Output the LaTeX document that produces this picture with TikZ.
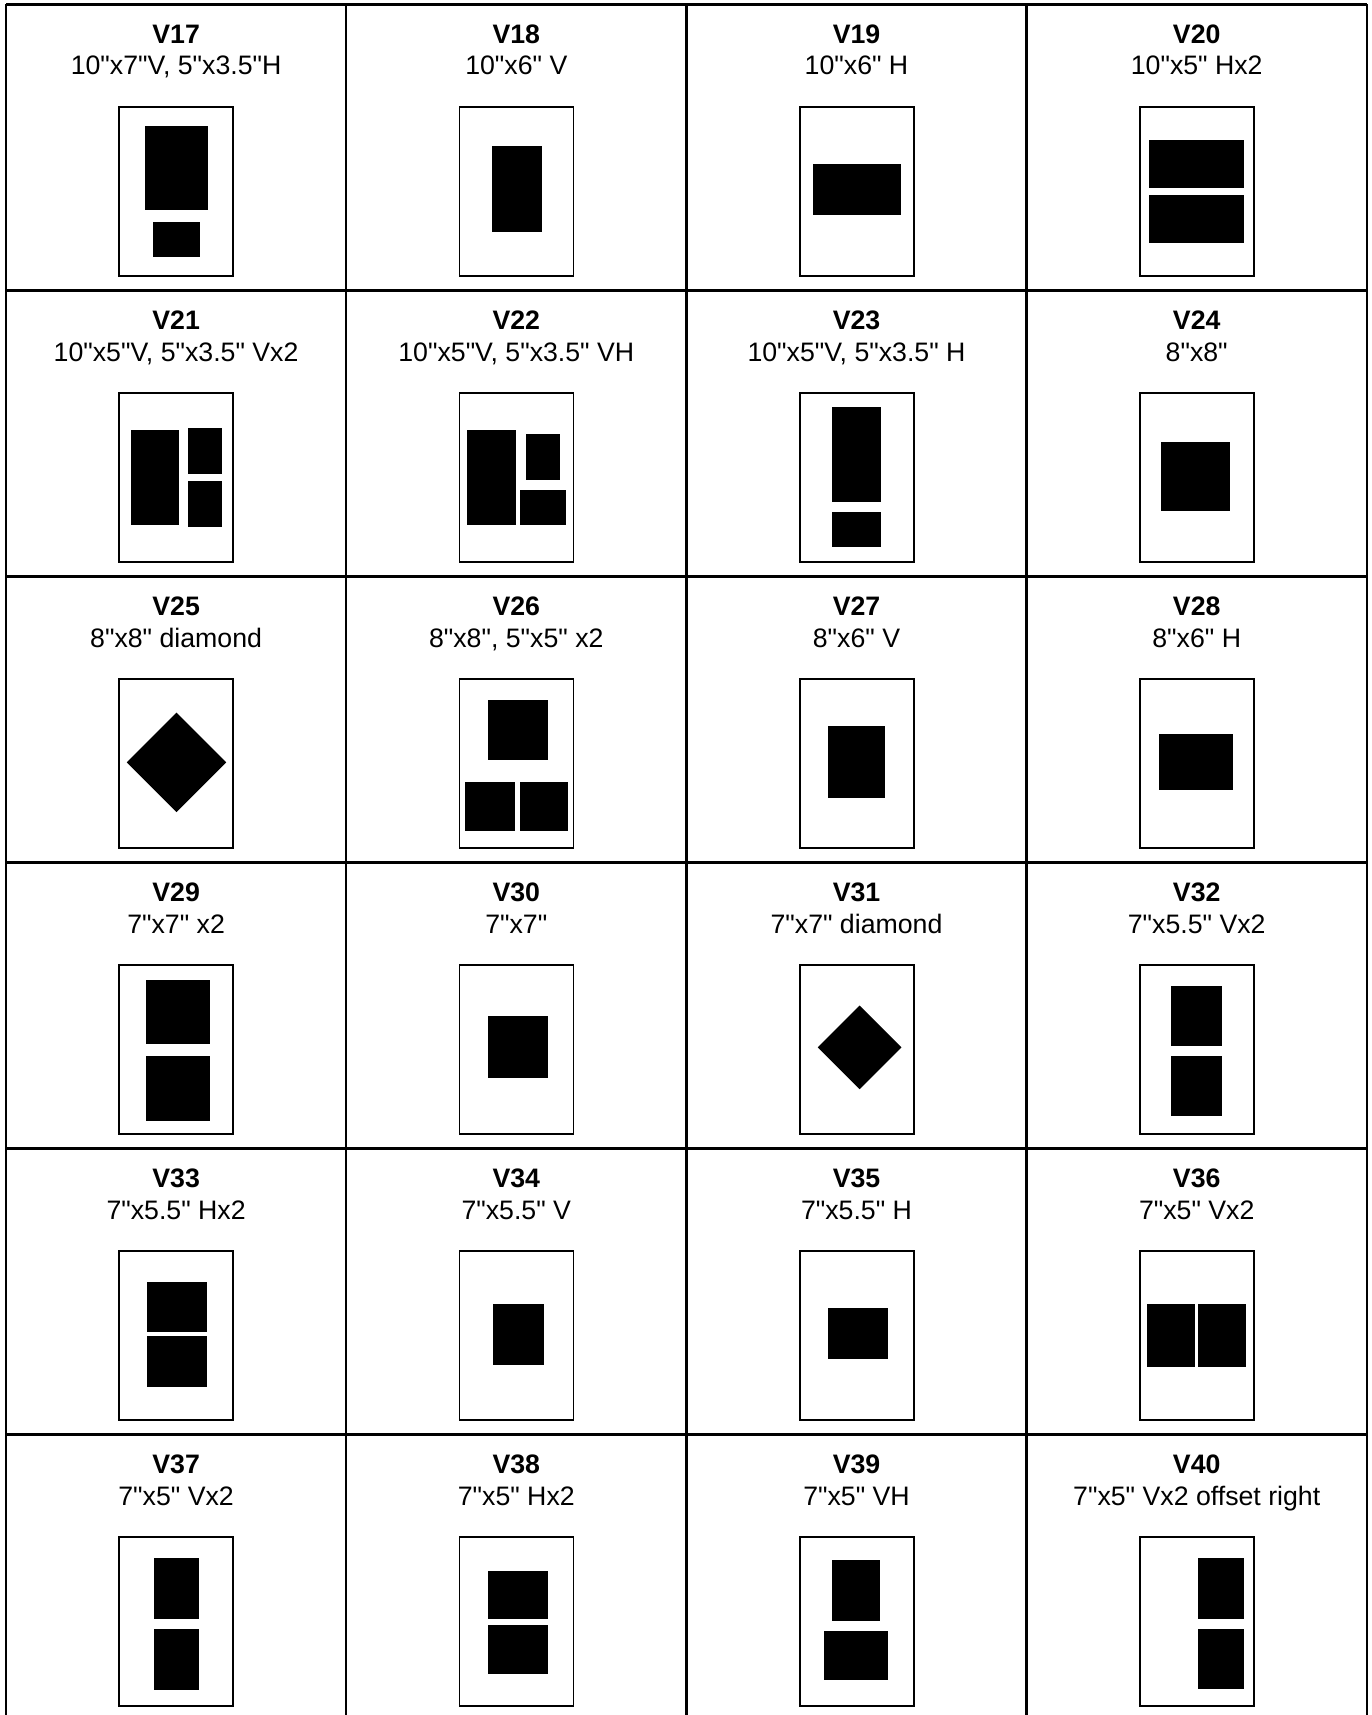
\documentclass[tikz,border=0pt]{standalone}
\usepackage{fontspec}
\setmainfont{Liberation Sans}[Ligatures=TeXOff]
\tikzset{
  tablerule/.style={line width=2.3pt, black},
  mat/.style={draw=black, line width=1.8pt, fill=white},
  photo/.style={fill=black},
  ttl/.style={font=\bfseries\fontsize{26.7}{32}\selectfont, anchor=base, inner sep=0pt},
  sublbl/.style={font=\fontsize{26.7}{32}\selectfont, anchor=base, inner sep=0pt},
}
\newcommand\ph[4]{\fill[photo] (#1,#2) rectangle (#3,#4);}
\newcommand\dia[3]{\fill[photo] ({#1-#3},#2) -- (#1,{#2-#3}) -- ({#1+#3},#2) -- (#1,{#2+#3}) -- cycle;}
\newcommand\layout[5]{%
  \pgfmathsetmacro\cx{6+340.2*#1}%
  \pgfmathsetmacro\cy{4.4+286*#2}%
  \node[ttl] (t#3) at ({\cx+170.1},{\cy+38.9}) {#3};
  \node[sublbl] (s#3) at ({\cx+170.1},{\cy+70.6}) {#4};
  \begin{scope}[shift={({\cx+113.3},{\cy+102.3})}]
    \draw[mat] (0,0) rectangle (114,169.3);
    #5
  \end{scope}
}
\begin{document}
\begin{tikzpicture}[x=1pt,y=-1pt]
\fill[white] (0,0) rectangle (1372,1715);
\useasboundingbox (0,0) rectangle (1372,1715);
% table rules
\foreach \i in {0,...,4} {
  \draw[tablerule] ({6+340.2*\i},4.4) -- ({6+340.2*\i},1715);
}
\foreach \j in {0,...,5} {
  \draw[tablerule] (6,{4.4+286*\j}) -- (1366.8,{4.4+286*\j});
}
% row 0
\layout{0}{0}{V17}{10"x7"V, 5"x3.5"H}{\ph{25.7}{19.3}{88.4}{103.6}\ph{34}{115.6}{80.4}{150}}
\layout{1}{0}{V18}{10"x6" V}{\ph{32.4}{39.3}{82}{125.6}}
\layout{2}{0}{V19}{10"x6" H}{\ph{13.7}{57.6}{101.4}{108}}
\layout{3}{0}{V20}{10"x5" Hx2}{\ph{9}{33.6}{104.3}{81.6}\ph{9}{88}{104.3}{136}}
% row 1
\layout{0}{1}{V21}{10"x5"V, 5"x3.5" Vx2}{\ph{11.7}{37.6}{60}{132}\ph{68.4}{35.6}{102.4}{81.3}\ph{68.4}{88}{102.4}{134}}
\layout{1}{1}{V22}{10"x5"V, 5"x3.5" VH}{\ph{7.7}{37.6}{56}{132}\ph{66.4}{41.3}{100.7}{87.3}\ph{60}{97.6}{106.7}{132}}
\layout{2}{1}{V23}{10"x5"V, 5"x3.5" H}{\ph{32.4}{14.6}{81.4}{109.6}\ph{32.4}{119.6}{81.4}{154}}
\layout{3}{1}{V24}{8"x8"}{\ph{21.3}{49.3}{90}{118}}
% row 2
\layout{0}{2}{V25}{8"x8" diamond}{\dia{57.2}{83.7}{49.7}}
\layout{1}{2}{V26}{8"x8", 5"x5" x2}{\ph{28}{21}{88.4}{81.7}\ph{5.5}{103.3}{55.7}{152}\ph{60.7}{103.3}{108.7}{152}}
\layout{2}{2}{V27}{8"x6" V}{\ph{28.3}{47}{85}{119.7}}
\layout{3}{2}{V28}{8"x6" H}{\ph{19.2}{55}{92.6}{111.3}}
% row 3
\layout{0}{3}{V29}{7"x7" x2}{\ph{26.3}{15.6}{90.3}{79.6}\ph{26.3}{91.6}{90.3}{156.3}}
\layout{1}{3}{V30}{7"x7"}{\ph{28}{51.6}{88.4}{113.6}}
\layout{2}{3}{V31}{7"x7" diamond}{\dia{59.9}{82.7}{41.8}}
\layout{3}{3}{V32}{7"x5.5" Vx2}{\ph{31.5}{21.3}{81.7}{81.6}\ph{31.5}{91.6}{81.7}{151.6}}
% row 4
\layout{0}{4}{V33}{7"x5.5" Hx2}{\ph{27.8}{31}{88.1}{81.6}\ph{27.8}{85.6}{88.1}{136.3}}
\layout{1}{4}{V34}{7"x5.5" V}{\ph{33.9}{53.3}{84.7}{114}}
\layout{2}{4}{V35}{7"x5.5" H}{\ph{28.3}{57.3}{88.7}{108}}
\layout{3}{4}{V36}{7"x5" Vx2}{\ph{6.8}{53.3}{55.5}{116}\ph{57.7}{53.3}{106.5}{116}}
% row 5
\layout{0}{5}{V37}{7"x5" Vx2}{\ph{34.3}{21.3}{80.1}{82.3}\ph{34.3}{92.3}{80.1}{153}}
\layout{1}{5}{V38}{7"x5" Hx2}{\ph{28}{34}{88.4}{82.3}\ph{28}{88.3}{88.4}{137}}
\layout{2}{5}{V39}{7"x5" VH}{\ph{32.7}{23.6}{80.7}{84}\ph{24.7}{94.3}{88.7}{143}}
\layout{3}{5}{V40}{7"x5" Vx2 offset right}{\ph{58}{21.6}{104.3}{82.3}\ph{58}{92.3}{104.3}{152.6}}
\end{tikzpicture}
\end{document}
